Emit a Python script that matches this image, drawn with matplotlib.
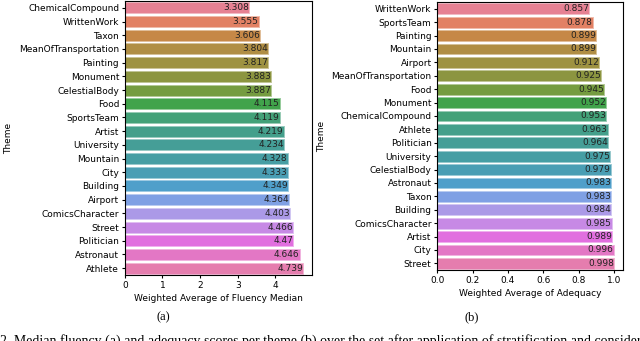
import numpy as np
import matplotlib
matplotlib.use("Agg")
import matplotlib.pyplot as plt
import matplotlib.colors as mcolors
import seaborn as sns

fluency_themes = ["ChemicalCompound", "WrittenWork", "Taxon", "MeanOfTransportation",
                  "Painting", "Monument", "CelestialBody", "Food", "SportsTeam", "Artist",
                  "University", "Mountain", "City", "Building", "Airport", "ComicsCharacter",
                  "Street", "Politician", "Astronaut", "Athlete"]
fluency_values = [3.308, 3.555, 3.606, 3.804, 3.817, 3.883, 3.887, 4.115, 4.119, 4.219,
                  4.234, 4.328, 4.333, 4.349, 4.364, 4.403, 4.466, 4.47, 4.646, 4.739]

adequacy_themes = ["WrittenWork", "SportsTeam", "Painting", "Mountain", "Airport",
                   "MeanOfTransportation", "Food", "Monument", "ChemicalCompound", "Athlete",
                   "Politician", "University", "CelestialBody", "Astronaut", "Taxon",
                   "Building", "ComicsCharacter", "Artist", "City", "Street"]
adequacy_values = [0.857, 0.878, 0.899, 0.899, 0.912, 0.925, 0.945, 0.952, 0.953, 0.963,
                   0.964, 0.975, 0.979, 0.983, 0.983, 0.984, 0.985, 0.989, 0.996, 0.998]

fs = 6.5
plt.rcParams['font.family'] = ['DejaVu Sans']

fig = plt.figure(figsize=(6.4, 3.41), dpi=100)
ax1 = fig.add_axes([0.195, 0.1935, 0.2925, 0.8035])
ax2 = fig.add_axes([0.683, 0.208, 0.290, 0.786])


def draw(ax, themes, values, xlabel):
    sns.barplot(x=values, y=themes, hue=themes, palette="husl", legend=False, ax=ax)
    # light rim around the bars, as in the original
    for p in ax.patches:
        c = np.array(mcolors.to_rgb(p.get_facecolor()))
        p.set_edgecolor(c + (1 - c) * 0.45)
        p.set_linewidth(0.7)
    for i, v in enumerate(values):
        ax.text(v, i, str(v), ha='right', va='center', fontsize=fs, color='#222222')
    ax.set_ylabel("Theme", fontsize=fs)
    ax.set_xlabel(xlabel, fontsize=fs)
    ax.tick_params(labelsize=fs, length=2.5, pad=1.5)
    ax.xaxis.labelpad = 3


draw(ax1, fluency_themes, fluency_values, "Weighted Average of Fluency Median")
draw(ax2, adequacy_themes, adequacy_values, "Weighted Average of Adequacy")
ax1.set_xticks([0, 1, 2, 3, 4])
ax2.set_xticks([0.0, 0.2, 0.4, 0.6, 0.8, 1.0])

fig.text(163 / 640, 1 - 317 / 341, "(a)", ha='center', va='center',
         fontsize=9, family='Liberation Serif')
fig.text(472 / 640, 1 - 317 / 341, "(b)", ha='center', va='center',
         fontsize=9, family='Liberation Serif')
fig.text(0.0, 1 - 334 / 341,
         "2. Median fluency (a) and adequacy scores per theme (b) over the "
         "set after application of stratification and considering",
         ha='left', va='top', fontsize=10, family='Liberation Serif')

fig.savefig("out.png", dpi=100)
